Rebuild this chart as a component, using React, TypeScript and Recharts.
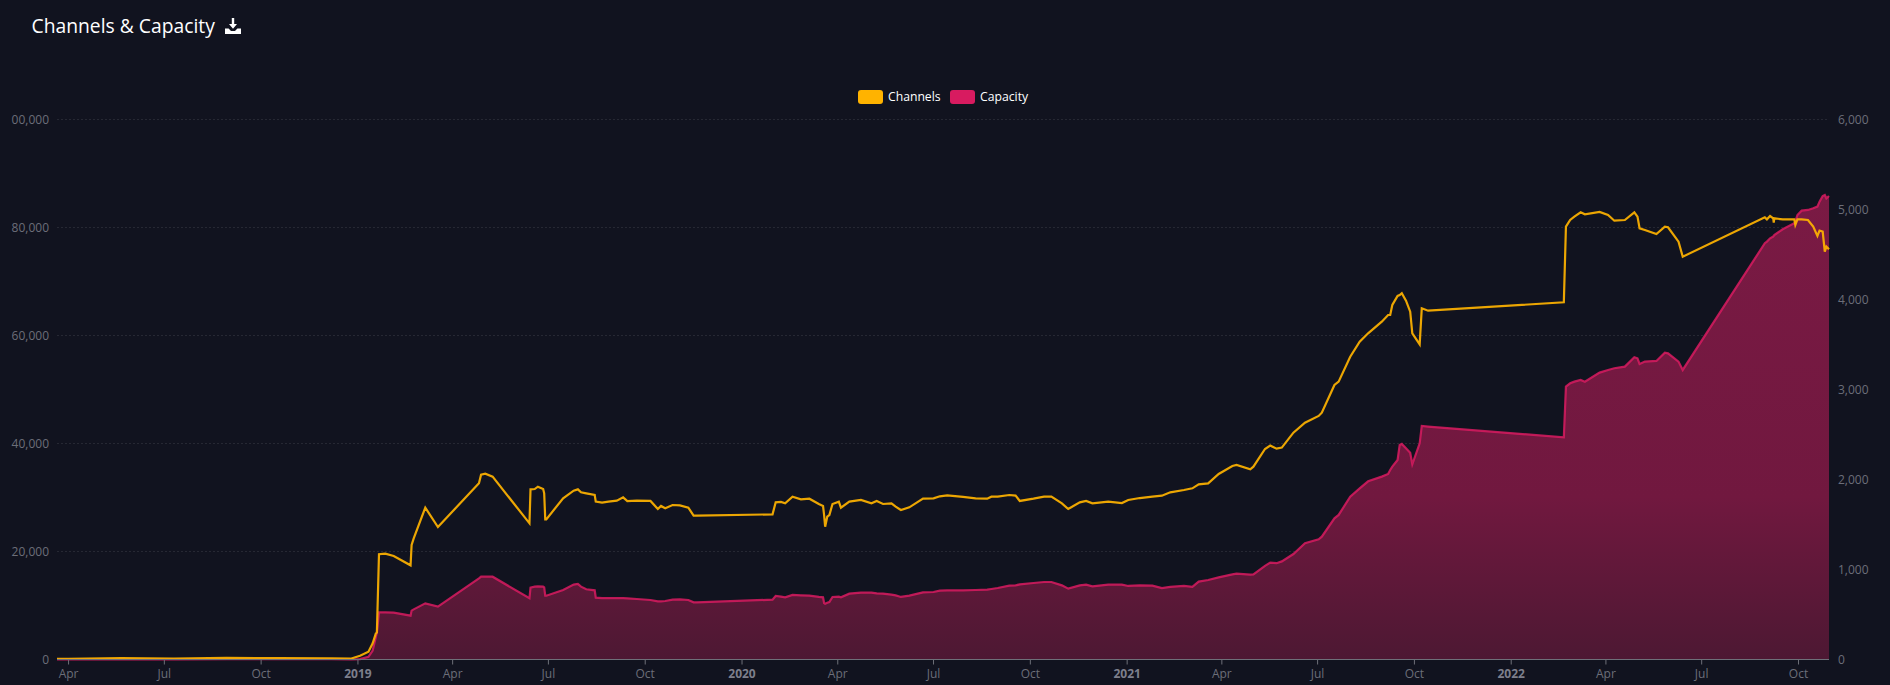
import React from 'react';
import { ComposedChart, Area, Line, XAxis, YAxis, CartesianGrid, Legend } from 'recharts';

// x values are days since 1 Apr 2018
const dayOffsets = [
  -11, 0, 50, 100, 150, 200, 250, 268, 277, 285, 289, 292, 293, 295, 301, 309, 325, 326, 328, 339, 351,
  390, 392, 396, 403, 438, 439, 443, 446, 451, 452, 453, 454, 470, 480, 484, 487, 492, 500, 501, 507, 513, 521, 527, 531, 540, 553,
  560, 563, 567, 574, 581, 589, 594, 597, 669, 672, 677, 681, 688, 696, 704, 713, 717, 718, 719, 721, 723, 726, 732, 734, 742, 753,
  763, 768, 774, 782, 786, 791, 799, 812, 822, 828, 835, 850, 862, 873, 877, 883, 894, 900, 904, 917, 927, 934, 944, 950, 961, 967,
  973, 988, 1001, 1007, 1018, 1030, 1039, 1047, 1060, 1068, 1074, 1083, 1093, 1106, 1110, 1123,
  1126, 1137, 1142, 1148, 1153, 1164, 1175, 1188, 1191, 1203, 1207, 1218, 1227, 1235, 1248, 1254, 1256, 1258, 1263, 1265, 1267, 1271,
  1275, 1277, 1284, 1286, 1292, 1421, 1423, 1427, 1431, 1437, 1441, 1455, 1463, 1469, 1479, 1488, 1491, 1493, 1498, 1509, 1517, 1520,
  1530, 1534, 1612, 1614, 1617, 1620, 1620.5, 1621, 1629, 1640, 1641, 1643, 1647, 1653, 1658, 1662, 1664, 1667, 1669, 1670.5, 1673,
];

const channels = [
  100, 120, 250, 180, 300, 260, 200, 150, 700, 1450, 3000, 4850, 5000, 19500, 19600, 19170, 17440, 21200, 22440, 28120, 24540,
  32630, 34230, 34420, 33860, 25220, 31510, 31570, 32000, 31570, 30770, 25960, 25960, 29850, 31270, 31510, 30960, 30770, 30460, 29230, 29040, 29230, 29420, 30030, 29350, 29420, 29360,
  27870, 28430, 28000, 28610, 28550, 28120, 26640, 26640, 26880, 29110, 29170, 28920, 30150, 29660, 29780, 28800, 28430, 26760, 24600, 26450, 26760, 28800, 29230, 28120, 29230, 29540,
  28920, 29360, 28800, 28920, 28300, 27690, 28180, 29780, 29850, 30220, 30400, 30100, 29850, 29780, 30150, 30150, 30460, 30340, 29360, 29780, 30150, 30150, 28920, 27870, 29110, 29360,
  28920, 29230, 28980, 29540, 29900, 30150, 30340, 30960, 31390, 31700, 32440, 32620, 34350, 35830, 36020, 35210,
  35710, 38990, 39610, 39050, 39240, 42010, 43860, 45100, 45710, 50840, 51450, 56080, 58860, 60400, 62560, 63800, 63800, 65650, 67320, 67500, 67820, 66460,
  64420, 60410, 58370, 65040, 64600, 66150, 80160, 81390, 82010, 82810, 82440, 82870, 82310, 81260, 81390, 82810, 82010, 79850, 79540, 78800, 80160, 80040,
  77380, 74600, 81880, 81510, 82130, 81700, 80900, 81700, 81510, 81510, 80470, 81510, 81510, 81390, 80160, 78440, 79430, 79240, 75530, 76460, 75960,
];

const capacity = [
  0, 0, 2, 2, 3, 3, 3, 0, 5, 30, 100, 250, 300, 524, 524, 520, 487, 543, 557, 624, 587,
  902, 920, 920, 920, 680, 798, 809, 813, 809, 802, 709, 709, 772, 832, 839, 809, 780, 769, 687, 683, 683, 683, 683, 680, 672, 661,
  646, 646, 650, 665, 668, 661, 635, 635, 665, 706, 698, 691, 717, 713, 709, 695, 691, 628, 620, 631, 639, 695, 698, 691, 732, 743,
  743, 735, 732, 720, 713, 695, 709, 746, 750, 765, 769, 769, 772, 776, 783, 794, 820, 824, 835, 850, 861, 861, 824, 787, 824, 831,
  813, 831, 831, 817, 824, 820, 794, 806, 817, 806, 865, 883, 913, 946, 954, 943,
  945, 1040, 1076, 1070, 1090, 1172, 1291, 1335, 1365, 1569, 1606, 1810, 1902, 1980, 2032, 2061, 2106, 2143, 2217, 2384, 2395, 2347,
  2298, 2169, 2402, 2595, 2588, 2469, 3032, 3069, 3087, 3106, 3087, 3188, 3217, 3236, 3254, 3358, 3347, 3284, 3310, 3317, 3410, 3402,
  3310, 3217, 4625, 4643, 4680, 4699, 4706, 4717, 4780, 4847, 4865, 4939, 4987, 4995, 5013, 5032, 5087, 5150, 5161, 5124, 5150,
];

const tickDays = [0, 91, 183, 275, 365, 456, 548, 640, 731, 822, 914, 1006, 1096, 1187, 1279, 1371, 1461, 1552, 1644];
const tickLabels = ['Apr', 'Jul', 'Oct', '2019', 'Apr', 'Jul', 'Oct', '2020', 'Apr', 'Jul', 'Oct', '2021', 'Apr', 'Jul', 'Oct', '2022', 'Apr', 'Jul', 'Oct'];

const leftTicks = [0, 20000, 40000, 60000, 80000, 100000];
const leftTickLabels = ['0', '20,000', '40,000', '60,000', '80,000', '00,000'];
const rightTicks = [0, 1000, 2000, 3000, 4000, 5000, 6000];

const seriesNames = ['Channels', 'Capacity'];
const seriesColors = ['#ffb300', '#d81b60'];

const data = dayOffsets.map((day, i) => ({ day, channels: channels[i], capacity: capacity[i] }));

const FONT = '"Open Sans", sans-serif';

function MonthTick({ x, y, payload }: any) {
  const label = tickLabels[tickDays.indexOf(payload.value)];
  const isYear = label.length === 4;
  return (
    <text
      x={x}
      y={y}
      dy={11}
      textAnchor="middle"
      fontFamily={FONT}
      fontSize={12}
      fontWeight={isYear ? 700 : 400}
      fill={isYear ? '#7d7f8c' : '#6c6e79'}
    >
      {label}
    </text>
  );
}

function ChartLegend() {
  return (
    <div style={{ display: 'flex', fontFamily: FONT, fontSize: 12.2, fontWeight: 500, color: '#fff', lineHeight: '14px' }}>
      {seriesNames.map((name, i) => (
        <div key={name} style={{ display: 'flex', alignItems: 'center', marginRight: 9.5 }}>
          <span style={{ width: 25, height: 14, borderRadius: 3, background: seriesColors[i], marginRight: 5 }} />
          <span>{name}</span>
        </div>
      ))}
    </div>
  );
}

export default function App() {
  return (
    <div style={{ position: 'absolute', left: 0, top: 0, width: 1890, height: 685, background: '#11131f', overflow: 'hidden' }}>
      <div style={{ position: 'absolute', left: 31.5, top: 12, fontFamily: FONT, fontSize: 19.3, lineHeight: '28px', color: '#fff' }}>
        Channels &amp; Capacity
      </div>
      <svg style={{ position: 'absolute', left: 225, top: 18 }} width={16} height={16} viewBox="0 0 16 16" fill="#fff">
        <path d="M6.8 0h2.4v6H12l-4 4.8L4 6h2.8z" />
        <path d="M0 10.5h3.6l2.4 2.5h4l2.4-2.5H16V16H0z" />
      </svg>
      <ComposedChart
        width={1890}
        height={685}
        data={data}
        margin={{ top: 119.5, right: 0, bottom: 0, left: 0 }}
      >
        <defs>
          <linearGradient id="capacityFill" x1="0" y1="0" x2="0" y2="1">
            <stop offset="0%" stopColor="#7a1a44" />
            <stop offset="65%" stopColor="#71183f" />
            <stop offset="100%" stopColor="#4d1833" />
          </linearGradient>
        </defs>
        <CartesianGrid yAxisId="left" vertical={false} stroke="#ffffff" strokeOpacity={0.09} strokeDasharray="2 2" />
        <XAxis
          dataKey="day"
          type="number"
          domain={[-11, 1673]}
          ticks={tickDays}
          interval={0}
          height={25.5}
          stroke="#6e7079"
          tickSize={5}
          tickMargin={2}
          tick={<MonthTick />}
          allowDecimals
        />
        <YAxis
          yAxisId="left"
          width={57}
          domain={[0, 100000]}
          ticks={leftTicks}
          axisLine={false}
          tickLine={false}
          tickSize={0}
          tickMargin={8}
          tickFormatter={(v: number) => leftTickLabels[leftTicks.indexOf(v)]}
          tick={{ fontFamily: FONT, fontSize: 12, fill: '#6c6e79' }}
        />
        <YAxis
          yAxisId="right"
          orientation="right"
          width={61}
          domain={[0, 6000]}
          ticks={rightTicks}
          axisLine={false}
          tickLine={false}
          tickSize={0}
          tickMargin={9}
          tickFormatter={(v: number) => v.toLocaleString('en-US')}
          tick={{ fontFamily: FONT, fontSize: 12, fill: '#6c6e79' }}
        />
        <Legend
          verticalAlign="middle"
          content={<ChartLegend />}
          wrapperStyle={{ position: 'absolute', left: 858, top: 90, width: 'auto' }}
        />
        <Area
          yAxisId="right"
          type="linear"
          dataKey="capacity"
          name={seriesNames[1]}
          stroke={seriesColors[1]}
          strokeOpacity={0.85}
          strokeWidth={2.2}
          fill="url(#capacityFill)"
          fillOpacity={1}
          dot={false}
          activeDot={false}
          isAnimationActive={false}
        />
        <Line
          yAxisId="left"
          type="linear"
          dataKey="channels"
          name={seriesNames[0]}
          stroke={seriesColors[0]}
          strokeOpacity={0.92}
          strokeWidth={2.2}
          dot={false}
          activeDot={false}
          isAnimationActive={false}
        />
      </ComposedChart>
    </div>
  );
}
